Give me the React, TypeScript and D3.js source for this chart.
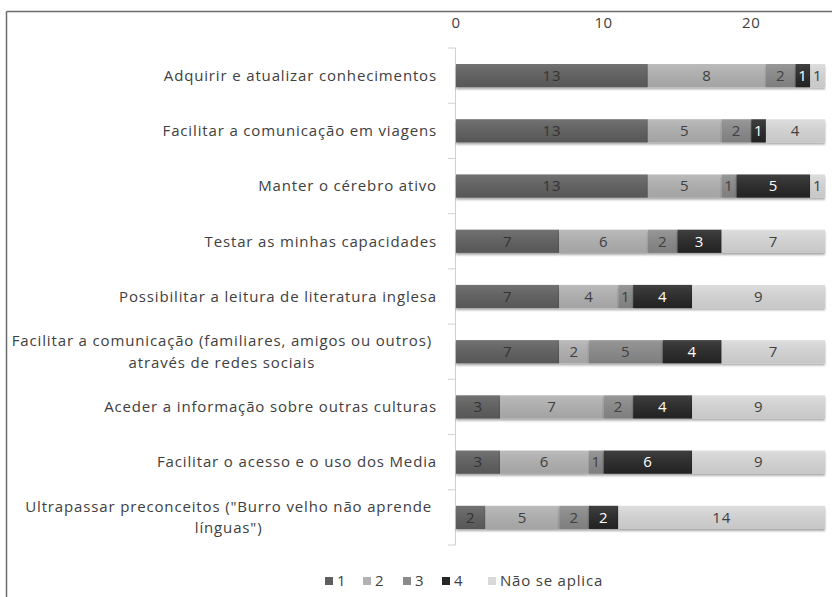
import React from "react";
import * as d3 from "d3";

const categories: string[][] = [
  ["Adquirir e atualizar conhecimentos"],
  ["Facilitar a comunicação em viagens"],
  ["Manter o cérebro ativo"],
  ["Testar as minhas capacidades"],
  ["Possibilitar a leitura de literatura inglesa"],
  ["Facilitar a comunicação (familiares, amigos ou outros)", "através de redes sociais"],
  ["Aceder a informação sobre outras culturas"],
  ["Facilitar o acesso e o uso dos Media"],
  ["Ultrapassar preconceitos (\"Burro velho não aprende", "línguas\")"],
];

const seriesNames = ["1", "2", "3", "4", "Não se aplica"];
const s1 = [13, 13, 13, 7, 7, 7, 3, 3, 2];
const s2 = [8, 5, 5, 6, 4, 2, 7, 6, 5];
const s3 = [2, 2, 1, 2, 1, 5, 2, 1, 2];
const s4 = [1, 1, 5, 3, 4, 4, 4, 6, 2];
const s5 = [1, 4, 1, 7, 9, 7, 9, 9, 14];
const seriesValues = [s1, s2, s3, s4, s5];
const xTicks = [0, 10, 20];

const colors = ["#5e5e5e", "#b2b2b2", "#8a8a8a", "#262626", "#d9d9d9"];
const labelColors = ["#333333", "#404040", "#404040", "#ffffff", "#404040"];

const W = 832;
const H = 597;
const FONT = "'Open Sans', sans-serif";
const LS = 0.85;

export default function App() {
  const x = d3.scaleLinear().domain([0, 25]).range([456, 825]);
  const keys = categories.map((_, i) => String(i));
  const y = d3
    .scaleBand<string>()
    .domain(keys)
    .range([48, 545])
    .paddingInner(0.58)
    .paddingOuter(0.29);

  const rows = keys.map((k, i) => {
    const obj: any = { key: k };
    seriesNames.forEach((s, j) => (obj[s] = seriesValues[j][i]));
    return obj;
  });
  const stacked = d3.stack<any>().keys(seriesNames)(rows);
  const bw = y.bandwidth();
  const step = y.step();

  const legendX = [325, 363, 403, 442, 488];

  return (
    <svg
      width={W}
      height={H}
      style={{ position: "absolute", left: 0, top: 0, background: "#fff" }}
      fontFamily={FONT}
    >
      <defs>
        <filter id="sh" x="-5%" y="-30%" width="110%" height="180%">
          <feDropShadow dx="0" dy="2" stdDeviation="1.2" floodColor="#000" floodOpacity="0.35" />
        </filter>
        <linearGradient id="gl" x1="0" x2="0" y1="0" y2="1">
          <stop offset="0" stopColor="#fff" stopOpacity="0.12" />
          <stop offset="1" stopColor="#000" stopOpacity="0.08" />
        </linearGradient>
      </defs>
      <rect x={0} y={0} width={W} height={H} fill="#fff" />
      {/* frame */}
      <line x1={6.5} y1={11.5} x2={W} y2={11.5} stroke="#6b6b6b" strokeWidth={1.5} />
      <line x1={6.5} y1={11.5} x2={6.5} y2={H} stroke="#6b6b6b" strokeWidth={1.5} />

      {/* top tick labels */}
      {xTicks.map((t) => (
        <text key={t} x={x(t)} y={28} textAnchor="middle" fontSize={15} letterSpacing={0.6} fill="#404040">
          {t}
        </text>
      ))}

      {/* vertical axis */}
      <line x1={455.5} y1={48} x2={455.5} y2={545} stroke="#d0d0d0" strokeWidth={1} />
      {d3.range(keys.length + 1).map((i) => (
        <line
          key={i}
          x1={448}
          x2={455.5}
          y1={48 + i * step}
          y2={48 + i * step}
          stroke="#d0d0d0"
          strokeWidth={1}
        />
      ))}

      {/* bars */}
      {stacked.map((layer, j) => (
        <g key={layer.key}>
          {layer.map((d, i) => {
            const x0 = x(d[0]);
            const x1 = x(d[1]);
            const yy = y(keys[i])!;
            return (
              <g key={i}>
                <rect x={x0} y={yy} width={x1 - x0} height={bw} fill={colors[j]} filter="url(#sh)" />
                <rect x={x0} y={yy} width={x1 - x0} height={bw} fill="url(#gl)" />
              </g>
            );
          })}
        </g>
      ))}
      {stacked.map((layer, j) => (
        <g key={"l" + layer.key}>
          {layer.map((d, i) => {
            const v = d[1] - d[0];
            if (!v) return null;
            const yy = y(keys[i])! + bw / 2;
            return (
              <text
                key={i}
                x={(x(d[0]) + x(d[1])) / 2}
                y={yy}
                dy="0.35em"
                textAnchor="middle"
                fontSize={15}
                letterSpacing={0.8}
                fill={labelColors[j]}
              >
                {v}
              </text>
            );
          })}
        </g>
      ))}

      {/* category labels */}
      {categories.map((lines, i) => {
        const cy = y(keys[i])! + bw / 2;
        if (lines.length === 1) {
          return (
            <text key={i} x={437} y={cy} dy="0.35em" textAnchor="end" fontSize={15} letterSpacing={LS} fill="#404040">
              {lines[0]}
            </text>
          );
        }
        return <CenteredBlock key={i} lines={lines} right={432} cy={cy} />;
      })}

      {/* legend */}
      {seriesNames.map((s, j) => (
        <g key={s} transform={`translate(${legendX[j]},581)`}>
          <rect x={0} y={-4} width={8} height={8} fill={colors[j]} />
          <text x={12} y={0} dy="0.35em" fontSize={15} letterSpacing={0.8} fill="#404040">
            {s}
          </text>
        </g>
      ))}
    </svg>
  );
}

function CenteredBlock({ lines, right, cy }: { lines: string[]; right: number; cy: number }) {
  const ref = React.useRef<SVGGElement>(null);
  const [cx, setCx] = React.useState<number | null>(null);
  React.useLayoutEffect(() => {
    if (!ref.current) return;
    const t = ref.current.querySelector("text");
    if (t) {
      const bb = (t as SVGTextElement).getBBox();
      setCx(right - bb.width / 2);
    }
  }, [right]);
  const lh = 21.5;
  const top = cy - ((lines.length - 1) * lh) / 2;
  return (
    <g ref={ref} style={{ visibility: cx === null ? "hidden" : "visible" }}>
      {lines.map((l, k) => (
        <text
          key={k}
          x={cx ?? right}
          y={top + k * lh}
          dy="0.35em"
          textAnchor="middle"
          fontSize={15}
          letterSpacing={LS}
          fill="#404040"
        >
          {l}
        </text>
      ))}
    </g>
  );
}
